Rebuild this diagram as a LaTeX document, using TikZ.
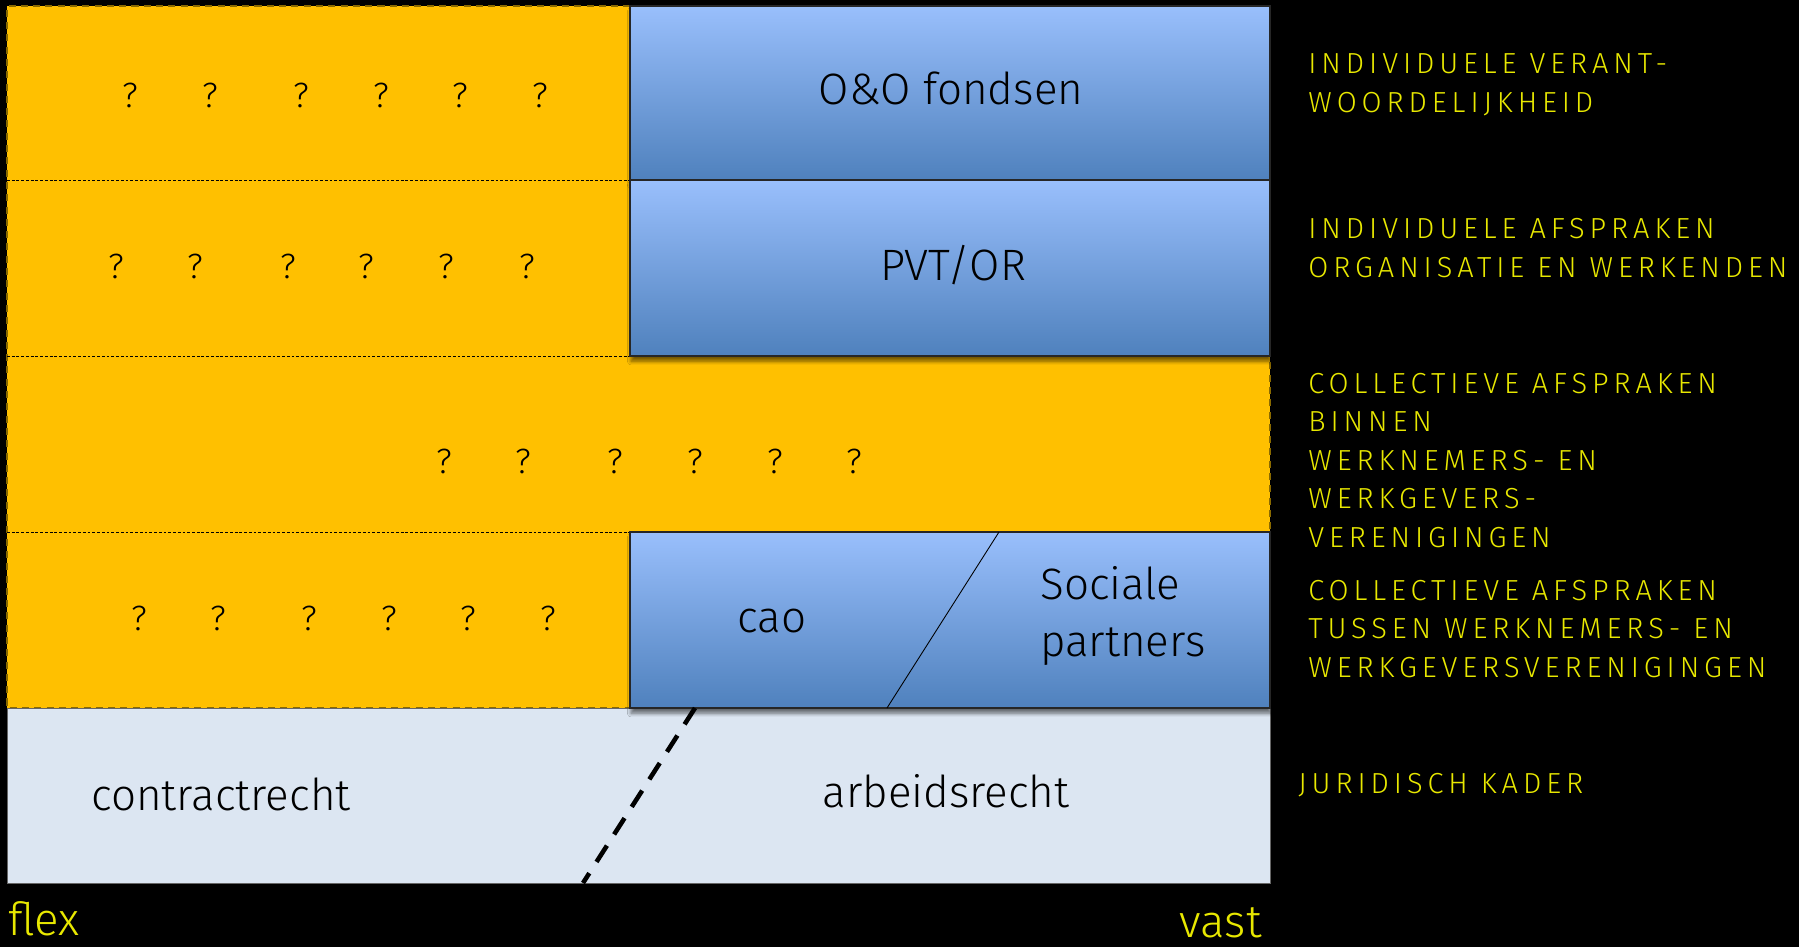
\documentclass[tikz,border=0pt]{standalone}
\usepackage{fontspec}
\setmainfont{Fira Sans Light}
\newfontfamily\capsfont{Fira Sans Light}[LetterSpace=17]
\usetikzlibrary{shadows.blur}
\definecolor{orangefill}{HTML}{FFC000}
\definecolor{orangeedge}{HTML}{8A6A00}
\definecolor{blueTop}{HTML}{99BFFC}
\definecolor{blueBot}{HTML}{4F81BD}
\definecolor{lightfill}{HTML}{DCE6F2}
\definecolor{sideyellow}{HTML}{E8E800}
\begin{document}
\begin{tikzpicture}[x=0.02cm,y=-0.02cm,
  qm/.style={font=\fontsize{20}{24}\selectfont, inner sep=0, anchor=base},
  biglabel/.style={font=\fontsize{25}{32}\selectfont, inner sep=0, anchor=base},
  endlabel/.style={font=\fontsize{26}{30}\selectfont, text=sideyellow, inner sep=0},
  side/.style={font=\capsfont\fontsize{16.5}{21.9}\selectfont, text=sideyellow, align=left, inner sep=0, anchor=base west},
  bluebox/.style={top color=blueTop, bottom color=blueBot, draw=black!85, line width=0.7pt,
    blur shadow={shadow xshift=0.6pt, shadow yshift=-3pt, shadow blur steps=6, shadow opacity=55}},
  rowsep/.style={black, line width=0.5pt, dash pattern=on 1.6pt off 1.1pt},
]
\fill[black] (0,0) rectangle (1799,947);
\useasboundingbox (0,0) rectangle (1799,947);

% orange field
\fill[orangefill] (7,6) rectangle (1270,708);
\draw[orangeedge, line width=1.2pt, dash pattern=on 4pt off 3pt] (1270,6) -- (7,6) -- (7,708) -- (1270,708) -- cycle;
\draw[rowsep] (7,180) -- (630,180);
\draw[rowsep] (7,356) -- (630,356);
\draw[rowsep] (7,532) -- (630,532);

% juridisch kader
\filldraw[fill=lightfill, draw=black!60, line width=0.5pt] (7,708) rectangle (1270,883);

% blue boxes
\path[bluebox] (630,6) rectangle (1270,180);
\path[bluebox] (630,180) rectangle (1270,356);
\path[bluebox] (630,532) rectangle (1270,708);

% separating lines
\coordinate (diagTop) at (999,532);
\coordinate (diagBot) at (887,708);
\draw[black, line width=0.5pt] (diagTop) -- (diagBot);
\coordinate (splitTop) at (695,708);
\coordinate (splitBot) at (583,883);
\draw[black, line width=2.6pt, dash pattern=on 11pt off 7.6pt] (splitTop) -- (splitBot);

% question marks
\foreach \x [count=\i] in {130,210,301,381,460,540} \node[qm] (qa\i) at (\x,107) {?};
\foreach \x [count=\i] in {116,195,288,366,446,527} \node[qm] (qb\i) at (\x,278) {?};
\foreach \x [count=\i] in {444,523,615,695,775,854} \node[qm] (qc\i) at (\x,473) {?};
\foreach \x [count=\i] in {139,218,309,389,468,548} \node[qm] (qd\i) at (\x,630) {?};

% box labels
\node[biglabel] (oo) at (951,104) {O\&O fondsen};
\node[biglabel] (pvt) at (953,280) {PVT/OR};
\node[biglabel] (cao) at (772,632) {cao};
\node[biglabel, anchor=base west, align=left] (sp) at (1040,656) {Sociale\\partners};
\node[biglabel] (contract) at (221,810) {contractrecht};
\node[biglabel] (arbeid) at (946,807) {arbeidsrecht};

% axis ends
\node[endlabel, anchor=base west] (flex) at (8,935) {flex};
\node[endlabel, anchor=base east] (vast) at (1262,937) {vast};

% side descriptions (anchored at the baseline of the last line)
\node[side] (s1) at (1308,112) {INDIVIDUELE VERANT-\\WOORDELIJKHEID};
\node[side] (s2) at (1308,277) {INDIVIDUELE AFSPRAKEN\\ORGANISATIE EN WERKENDEN};
\node[side] (s3) at (1308,547) {COLLECTIEVE AFSPRAKEN\\BINNEN\\WERKNEMERS- EN\\WERKGEVERS-\\VERENIGINGEN};
\node[side] (s4) at (1308,677) {COLLECTIEVE AFSPRAKEN\\TUSSEN WERKNEMERS- EN\\WERKGEVERSVERENIGINGEN};
\node[side] (s5) at (1298,793) {JURIDISCH KADER};
\end{tikzpicture}
\end{document}
